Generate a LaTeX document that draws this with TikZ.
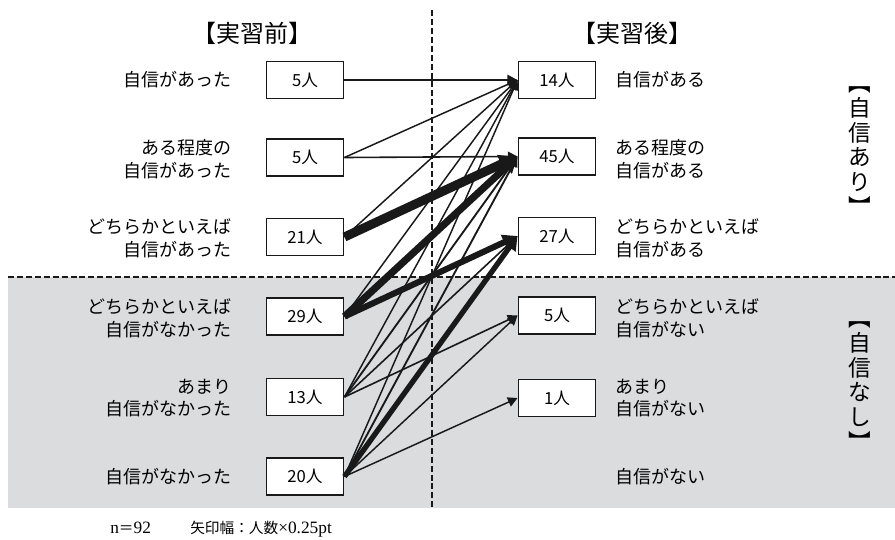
\documentclass[tikz,border=0pt]{standalone}
\usepackage{fontspec}
\setmainfont{Noto Sans CJK JP}
\newfontfamily\serif{Liberation Serif}
\usetikzlibrary{arrows.meta}
\definecolor{bggray}{RGB}{219,220,222}
\definecolor{ink}{RGB}{25,25,25}
\begin{document}
\begin{tikzpicture}[x=0.75pt,y=-0.75pt,
  box/.style={draw=ink,line width=1.2pt,fill=white,minimum width=58pt,minimum height=27.5pt,inner sep=0pt,font=\fontsize{12.5pt}{14pt}\selectfont},
  llab/.style={anchor=east,align=right,inner sep=0pt,font=\fontsize{13.5pt}{17pt}\selectfont},
  rlab/.style={anchor=west,align=left,inner sep=0pt,font=\fontsize{13.5pt}{17pt}\selectfont},
  title/.style={inner sep=0pt,font=\fontsize{18pt}{20pt}\selectfont},
  vlab/.style={inner sep=0pt,align=center,font=\fontsize{17pt}{18.5pt}\selectfont},
  dashline/.style={draw=ink,line width=1.1pt,dash pattern=on 4.5pt off 2.2pt},
  flow/.style={draw=ink,-{Triangle[length=6pt 1.1,width=6pt 1.2]}},
  foot/.style={inner sep=0pt,anchor=base west,font=\fontsize{11pt}{13pt}\selectfont}]
\useasboundingbox (0,0) rectangle (895,539);
\fill[white] (0,0) rectangle (895,539);
\fill[bggray] (8,277) rectangle (895,508);
\draw[dashline] (8,277) -- (895,277);
\draw[dashline] (432,10) -- (432,508);
% titles
\node[title] (tpre) at (252,33) {【実習前】};
\node[title] (tpost) at (632,33) {【実習後】};
% left boxes
\node[box] (L1) at (305,80) {5人};
\node[box] (L2) at (305,157.5) {5人};
\node[box] (L3) at (305,237) {21人};
\node[box] (L4) at (305,316.5) {29人};
\node[box] (L5) at (305,397) {13人};
\node[box] (L6) at (305,476.5) {20人};
% right boxes
\node[box] (R1) at (557,80) {14人};
\node[box] (R2) at (557,156.5) {45人};
\node[box] (R3) at (557,236) {27人};
\node[box] (R4) at (557,315.5) {5人};
\node[box] (R5) at (557,398) {1人};
% left labels
\node[llab] (a1) at (232,80) {自信があった};
\node[llab] (a2) at (232,159) {ある程度の\\自信があった};
\node[llab] (a3) at (232,238) {どちらかといえば\\自信があった};
\node[llab] (a4) at (232,318) {どちらかといえば\\自信がなかった};
\node[llab] (a5) at (232,398) {あまり\\自信がなかった};
\node[llab] (a6) at (232,477) {自信がなかった};
% right labels
\node[rlab] (b1) at (615,80) {自信がある};
\node[rlab] (b2) at (615,159) {ある程度の\\自信がある};
\node[rlab] (b3) at (615,238) {どちらかといえば\\自信がある};
\node[rlab] (b4) at (615,318) {どちらかといえば\\自信がない};
\node[rlab] (b5) at (615,398) {あまり\\自信がない};
\node[rlab] (b6) at (615,477) {自信がない};
% vertical group labels
\node[vlab] (gyes) at (860,151) {︻\\自\\信\\あ\\り\\︼};
\node[vlab] (gno) at (860,386) {︻\\自\\信\\な\\し\\︼};
% flows (width = persons x 0.36pt, min 1.1pt)
\draw[flow,line width=1.4pt] (L1.east) -- (R1.west);
\draw[flow,line width=1.1pt] (L2.east) -- (R1.west);
\draw[flow,line width=1.2pt] (L2.east) -- (R2.west);
\draw[flow,line width=1.1pt] (L3.east) -- (R1.west);
\draw[flow,line width=6.8pt] (L3.east) -- (R2.west);
\draw[flow,line width=1.1pt] (L4.east) -- (R1.west);
\draw[flow,line width=5.4pt] (L4.east) -- (R2.west);
\draw[flow,line width=4.6pt] (L4.east) -- (R3.west);
\draw[flow,line width=1.1pt] (L5.east) -- (R1.west);
\draw[flow,line width=1.4pt] (L5.east) -- (R2.west);
\draw[flow,line width=1.2pt] (L5.east) -- (R3.west);
\draw[flow,line width=1.2pt] (L5.east) -- (R4.west);
\draw[flow,line width=1.1pt] (L6.east) -- (R1.west);
\draw[flow,line width=1.4pt] (L6.east) -- (R2.west);
\draw[flow,line width=4.0pt] (L6.east) -- (R3.west);
\draw[flow,line width=1.1pt] (L6.east) -- (R4.west);
\draw[flow,line width=1.1pt] (L6.east) -- (R5.west);
% footer
\node[foot] (fn) at (110,533) {{\serif\fontsize{13pt}{14pt}\selectfont n}＝{\serif\fontsize{13pt}{14pt}\selectfont 92}};
\node[foot] (fw) at (190,533) {矢印幅：人数{\serif\fontsize{13pt}{14pt}\selectfont ×0.25pt}};
\end{tikzpicture}
\end{document}
